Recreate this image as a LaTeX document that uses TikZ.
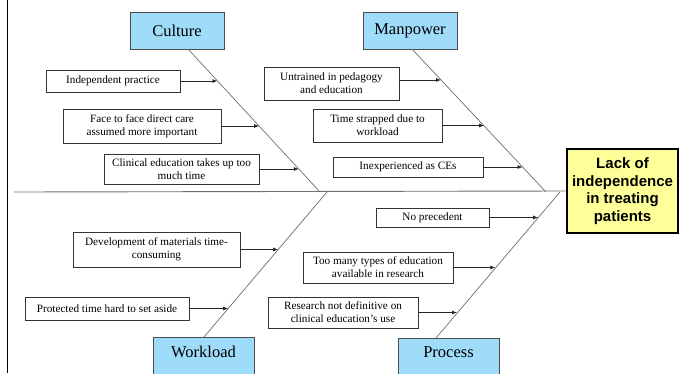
\documentclass[tikz,border=0pt]{standalone}
\usepackage{fontspec}
\setmainfont{Liberation Serif}
\newfontfamily\effectfont{Liberation Sans}
\usetikzlibrary{arrows.meta}
\definecolor{catblue}{RGB}{158,220,250}
\definecolor{effyellow}{RGB}{255,255,153}
\definecolor{bonegray}{RGB}{110,110,110}
\begin{document}
\begin{tikzpicture}[x=1pt,y=-1pt,
  cause/.style={draw=black!80, line width=0.8pt, fill=white, align=center, inner sep=0pt, font=\fontsize{11.2}{13}\selectfont},
  cat/.style={draw=black!70, line width=0.8pt, fill=catblue, minimum width=94pt, minimum height=37pt, inner sep=0pt, font=\fontsize{16.5}{18}\selectfont},
  cattext/.style={inner sep=0pt, font=\fontsize{16.5}{18}\selectfont},
  bone/.style={draw=bonegray, line width=0.7pt},
  arr/.style={draw=black!85, line width=0.8pt, -{Latex[length=5pt,width=4pt]}},
  effect/.style={draw=black, line width=2.8pt, fill=effyellow, align=center, inner sep=0pt, minimum width=111pt, minimum height=84pt, font=\effectfont\bfseries\fontsize{15}{17.5}\selectfont}
]
\useasboundingbox (0,0) rectangle (683,373);
\clip (0,0) rectangle (683,373);
\fill[white] (0,0) rectangle (683,373);

% left border line
\coordinate (L1) at (7.5,0);
\coordinate (L2) at (7.5,373);
\draw[black, line width=1.5pt] (L1) -- (L2);

% effect
\node[effect] (eff) at (622.5,191) {Lack of\\independence\\in treating\\patients};

% spine
\coordinate (S0) at (14,192);
\draw[bone, line width=0.9pt] (S0) -- (eff.west);

% category boxes
\node[cat] (cul) at (177,30.5) {Culture};
\node[cat] (man) at (410,30.5) {Manpower};
\node[cat, minimum width=101pt, minimum height=44pt] (wor) at (203.5,359) {};
\node[cattext] (worT) at (203.5,352) {Workload};
\node[cat, minimum width=101pt, minimum height=44pt] (pro) at (448.5,360) {};
\node[cattext] (proT) at (448.5,352.5) {Process};

% bones
\coordinate (C1) at (188,49);   \coordinate (C2) at (320,192);
\coordinate (M1) at (412,49);   \coordinate (M2) at (546,192);
\coordinate (W1) at (327,192);  \coordinate (W2) at (204,337);
\coordinate (P1) at (560,192);  \coordinate (P2) at (436,338);
\draw[bone] (C1) -- (C2);
\draw[bone] (M1) -- (M2);
\draw[bone] (W1) -- (W2);
\draw[bone] (P1) -- (P2);

% Culture causes
\node[cause, minimum width=134pt, minimum height=22pt] (c1) at (113,81) {Independent practice};
\node[cause, minimum width=158pt, minimum height=34pt] (c2) at (142,126) {Face to face direct care\\assumed more important};
\node[cause, minimum width=155pt, minimum height=30pt] (c3) at (181.5,169) {Clinical education takes up too\\much time};
\coordinate (ec1) at (217.5,81);
\coordinate (ec2) at (259.1,126);
\coordinate (ec3) at (298.8,169);
\draw[arr] (c1.east) -- (ec1);
\draw[arr] (c2.east) -- (ec2);
\draw[arr] (c3.east) -- (ec3);

% Manpower causes
\node[cause, minimum width=135pt, minimum height=33pt] (m1) at (331.5,83.5) {Untrained in pedagogy\\and education};
\node[cause, minimum width=129pt, minimum height=33pt] (m2) at (377.5,125.5) {Time strapped due to\\workload};
\node[cause, minimum width=150pt, minimum height=20pt] (m3) at (408,167) {Inexperienced as CEs};
\coordinate (em1) at (441,80);
\coordinate (em2) at (484.2,125.5);
\coordinate (em3) at (522.6,167);
\draw[arr] ([yshift=3.5pt]m1.east) -- (em1);
\draw[arr] (m2.east) -- (em2);
\draw[arr] (m3.east) -- (em3);

% Workload causes
\node[cause, minimum width=167pt, minimum height=35pt] (w1) at (156.5,249.5) {Development of materials time-\\consuming};
\node[cause, minimum width=164pt, minimum height=23pt] (w2) at (107,308.5) {Protected time hard to set aside};
\coordinate (ew1) at (278.2,249.5);
\coordinate (ew2) at (228.2,308.5);
\draw[arr] (w1.east) -- (ew1);
\draw[arr] (w2.east) -- (ew2);

% Process causes
\node[cause, minimum width=113pt, minimum height=19pt] (p1) at (432.5,217.5) {No precedent};
\node[cause, minimum width=150pt, minimum height=31pt] (p2) at (378,267.5) {Too many types of education\\available in research};
\node[cause, minimum width=150pt, minimum height=31pt] (p3) at (343,312.5) {Research not definitive on\\clinical education’s use};
\coordinate (ep1) at (538.2,217.5);
\coordinate (ep2) at (495.4,267.5);
\coordinate (ep3) at (457,312.5);
\draw[arr] (p1.east) -- (ep1);
\draw[arr] (p2.east) -- (ep2);
\draw[arr] (p3.east) -- (ep3);
\end{tikzpicture}
\end{document}
